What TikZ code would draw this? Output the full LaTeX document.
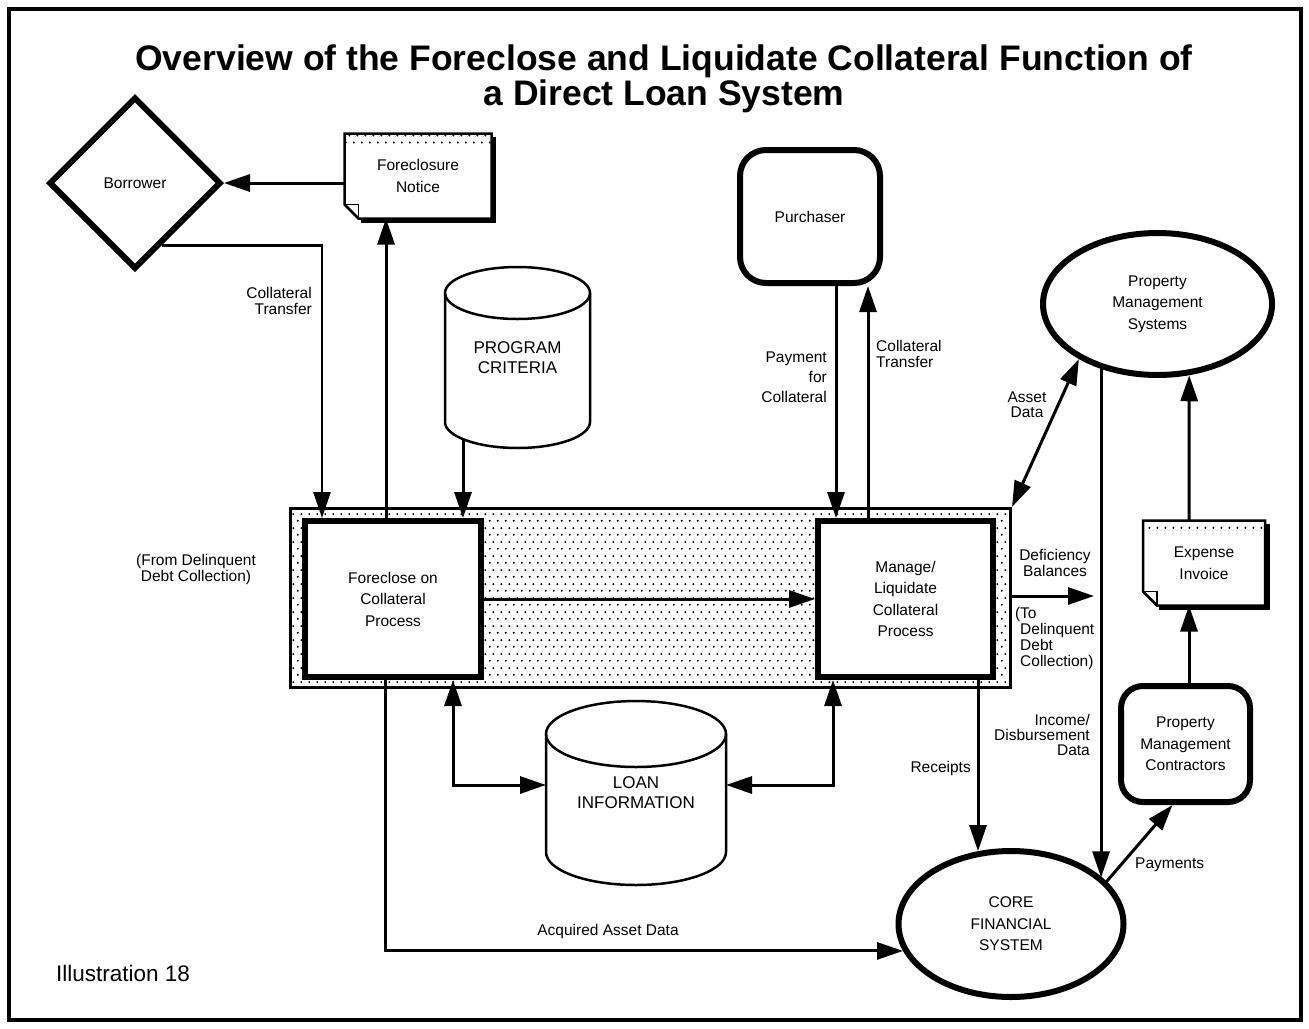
\documentclass[tikz,border=0pt]{standalone}
\usepackage{fontspec}
\setmainfont{Liberation Sans}
\usetikzlibrary{arrows.meta,shapes.geometric,patterns.meta,calc}

% staggered dot screen used for the process band and document headers
\tikzdeclarepattern{
  name=screendots,
  type=uncolored,
  bounding box={(0pt,0pt) and (8pt,14pt)},
  tile size={(8pt,14pt)},
  code={
    \fill (2pt,3.5pt) circle (1.15pt);
    \fill (6pt,10.5pt) circle (1.15pt);
  }
}

% document sheet: dotted header strip, folded lower-left corner, drop shadow
\newcommand\docsheet[1]{%
  \fill[pattern=screendots, pattern color=black] (#1.north west) rectangle ([yshift=-12pt]#1.north east);
  \draw[line width=2.5pt, line join=miter] (#1.north west) -- (#1.north east) -- (#1.south east)
     -- ([xshift=14pt]#1.south west) -- ([yshift=14pt]#1.south west) -- cycle;
  \draw[line width=1.5pt] ([yshift=14pt]#1.south west) -- ([xshift=14pt,yshift=14pt]#1.south west)
     -- ([xshift=14pt]#1.south west);
  \draw[line width=3.5pt] ([xshift=3pt,yshift=-3pt]#1.north east) -- ([xshift=3pt,yshift=-3pt]#1.south east)
     -- ([xshift=16pt,yshift=-3pt]#1.south west);
}

% data store drum: #1 node, #2 half width, #3 end-cap radius
\newcommand\drumoutline[3]{%
  \draw[line width=2.5pt] ($(#1.north)+(0,#3)$) ellipse [x radius=#2pt, y radius=#3pt];
  \draw[line width=2.5pt] ($(#1.north west)+(0,#3)$) -- ($(#1.south west)+(0,-#3)$)
     arc[start angle=180, end angle=360, x radius=#2pt, y radius=#3pt]
     -- ($(#1.north east)+(0,#3)$);
}

\begin{document}
\begin{tikzpicture}[x=1pt, y=-1pt,
  nodetext/.style={font=\fontsize{15.5}{21.5}\selectfont, align=center},
  lbl/.style={font=\fontsize{15.5}{16}\selectfont, inner sep=0pt},
  proc/.style={draw, rectangle, line width=6pt, fill=white, outer sep=auto, nodetext},
  ent/.style={draw, rectangle, rounded corners=26pt, line width=6pt, outer sep=auto, nodetext},
  oval/.style={draw, ellipse, line width=6pt, outer sep=auto, nodetext},
  docnode/.style={rectangle, inner sep=0pt, outer sep=0pt, nodetext},
  drum/.style={rectangle, inner sep=0pt, outer sep=0pt, align=center, font=\fontsize{17}{20}\selectfont},
  flow/.style={line width=3pt, -{Triangle[length=26pt,width=17pt]}},
  flowboth/.style={line width=3pt, {Triangle[length=26pt,width=17pt]}-{Triangle[length=26pt,width=17pt]}},
]
\useasboundingbox (0,0) rectangle (1309,1028);
\fill[white] (0,0) rectangle (1309,1028);
\draw[line width=4pt] (9,9) rectangle (1301,1020);

% heading
\node[anchor=base, font=\fontsize{35.5}{30}\selectfont\bfseries] (title1) at (664,70)
  {Overview of the Foreclose and Liquidate Collateral Function of};
\node[anchor=base, font=\fontsize{35.5}{30}\selectfont\bfseries] (title2) at (664,105)
  {a Direct Loan System};

% shaded band behind the two processes
\node[draw, rectangle, line width=3pt, outer sep=auto, pattern=screendots, pattern color=black,
      minimum width=720, minimum height=179] (band) at (650.5,598) {};

% processes
\node[proc, minimum width=176, minimum height=156] (fc) at (393,599) {Foreclose on\\Collateral\\Process};
\node[proc, minimum width=175, minimum height=156] (mg) at (905.5,599) {Manage/\\Liquidate\\Collateral\\Process};

% external entities
\node[draw, diamond, line width=6pt, outer sep=auto, minimum width=172, minimum height=172, nodetext] (bor) at (135,183) {Borrower};
\node[ent, minimum width=140, minimum height=133] (pu) at (810,216.5) {Purchaser};
\node[ent, minimum width=129, minimum height=116, rounded corners=22pt] (pmc) at (1185.5,744) {Property\\Management\\Contractors};
\node[oval, minimum width=229, minimum height=142] (pms) at (1157.5,304) {Property\\Management\\Systems};
\node[oval, minimum width=225, minimum height=146] (cfs) at (1011,924) {CORE\\FINANCIAL\\SYSTEM};

% documents
\node[docnode, minimum width=147, minimum height=85] (fn) at (418,176) {Foreclosure\\Notice};
\docsheet{fn}
\node[docnode, minimum width=122, minimum height=85] (ei) at (1204,563) {Expense\\Invoice};
\docsheet{ei}

% data stores
\node[drum, minimum width=145, minimum height=181] (pc) at (517.5,357.5) {PROGRAM\\CRITERIA};
\drumoutline{pc}{72.5}{26}
\node[drum, minimum width=180, minimum height=184] (li) at (636,793) {LOAN\\INFORMATION};
\drumoutline{li}{90}{33}

% flows around the foreclosure process
\draw[flow] (fn.west |- bor.east) -- (bor.east);
\draw[flow] ([xshift=-7pt]fc.north) -- ([xshift=-7pt]fc.north |- fn.south);
\draw[line width=2.5pt, -{Triangle[length=26pt,width=17pt]}]
  ($(bor.south)!0.3!(bor.east)$) -| ([xshift=-71pt]fc.north);
\draw[flow] ($(pc.south)+(-54.5,-9)$) -- ([xshift=70pt]fc.north);
\draw[flow] (fc.east) -- (mg.west);
\draw[flowboth] ([xshift=60pt]fc.south) |- ([yshift=8pt]li.west);
\draw[flow] ([xshift=-8pt]fc.south) |- (cfs.194);

% flows around the liquidation process
\draw[flow] ([xshift=26pt]pu.south) -- ([xshift=26pt]pu.south |- mg.north);
\draw[flow] ([xshift=58pt]pu.south |- mg.north) -- ([xshift=58pt]pu.south);
\draw[flowboth] (band.north east) -- (pms.215);
\coordinate (deficiency) at (1094,596);
\draw[flow] (band.east |- deficiency) -- (deficiency);
\draw[flowboth] ([xshift=-72.5pt]mg.south) |- ([yshift=8pt]li.east);
\draw[flow] ([xshift=72.5pt]mg.south) -- ([xshift=72.5pt]mg.south |- cfs.114);

% property management flows
\draw[flow] (pms.229) -- (pms.229 |- cfs.27);
\draw[flow] ([xshift=3.5pt]pmc.north) -- ([xshift=3.5pt]pmc.north |- ei.south);
\draw[flow] ([xshift=-15pt]ei.north) -- (pms.294);
\draw[flow] (cfs.24) -- ([xshift=-13pt]pmc.south);

% flow labels
\node[lbl, align=right, anchor=east] (l1) at (312,301) {Collateral\\Transfer};
\node[lbl, align=right, anchor=east, font=\fontsize{15.5}{20}\selectfont] (l2) at (827,377) {Payment\\for\\Collateral};
\node[lbl, align=left, anchor=west] (l3) at (876,354) {Collateral\\Transfer};
\node[lbl, align=center, font=\fontsize{15.5}{15}\selectfont] (l4) at (1027,405) {Asset\\Data};
\node[lbl, align=center] (l5) at (1055,563) {Deficiency\\Balances};
\node[lbl, align=left, anchor=west] (l6) at (1020,638) {\llap{(}To\\Delinquent\\Debt\\Collection)};
\node[lbl, align=right, anchor=east, font=\fontsize{15.5}{15}\selectfont] (l7) at (1090,735) {Income/\\Disbursement\\Data};
\node[lbl, anchor=east] (l8) at (971,768) {Receipts};
\node[lbl, anchor=west] (l9) at (1135,865) {Payments};
\node[lbl] (l10) at (608,931) {Acquired Asset Data};
\node[lbl, align=center] (l11) at (196,569) {(From Delinquent\\Debt Collection)};

\node[anchor=west, inner sep=0pt, font=\fontsize{22.5}{26}\selectfont] (illus) at (56,973) {Illustration 18};
\end{tikzpicture}
\end{document}
